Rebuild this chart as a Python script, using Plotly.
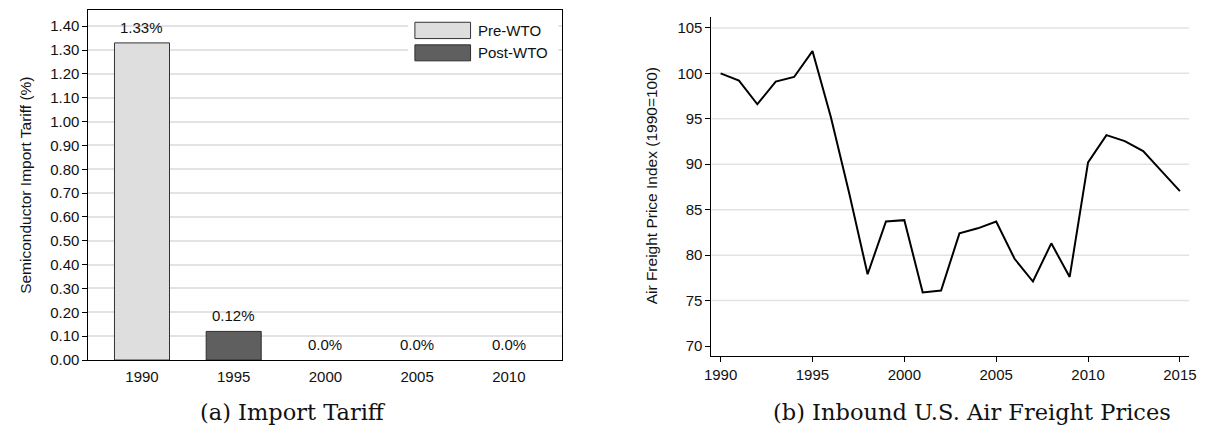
import plotly.graph_objects as go

W, H = 1205, 427

# ---- Data: panel (a) import tariff ----
tariff_years = ["1990", "1995", "2000", "2005", "2010"]
tariff_values = [1.33, 0.12, 0.0, 0.0, 0.0]
tariff_labels = ["1.33%", "0.12%", "0.0%", "0.0%", "0.0%"]
tariff_phase = ["Pre-WTO", "Post-WTO", "Post-WTO", "Post-WTO", "Post-WTO"]
tariff_ticks = [0.0, 0.1, 0.2, 0.3, 0.4, 0.5, 0.6, 0.7, 0.8, 0.9, 1.0, 1.1, 1.2, 1.3, 1.4]

# ---- Data: panel (b) air freight price index ----
freight_years = list(range(1990, 2016))
freight_index = [100.0, 99.2, 96.6, 99.1, 99.6, 102.45, 95.2, 86.8, 77.9, 83.7,
                 83.85, 75.9, 76.1, 82.4, 82.95, 83.7, 79.6, 77.1, 81.3, 77.6,
                 90.2, 93.2, 92.55, 91.45, 89.25, 87.05]
freight_xticks = [1990, 1995, 2000, 2005, 2010, 2015]
freight_yticks = [70, 75, 80, 85, 90, 95, 100, 105]
freight_grid = [75, 80, 85, 90, 95, 100, 105]

phase_colors = {"Pre-WTO": "#dedede", "Post-WTO": "#5f5f5f"}
phase_lines = {"Pre-WTO": "#333333", "Post-WTO": "#2e2e2e"}


def px(x):
    return x / W


def py(y):
    return (H - y) / H


SANS = "Liberation Sans, Arial"
TICK_FONT = dict(family=SANS, size=15, color="#111111")
GRID = "#e3e3e3"

fig = go.Figure()

for phase in ["Pre-WTO", "Post-WTO"]:
    xs = [x for x, p in zip(tariff_years, tariff_phase) if p == phase]
    ys = [v for v, p in zip(tariff_values, tariff_phase) if p == phase]
    lw = [1 if v > 0 else 0 for v in ys]
    fig.add_trace(go.Bar(
        x=xs, y=ys, name=phase, width=0.6,
        marker=dict(color=phase_colors[phase],
                    line=dict(color=phase_lines[phase], width=lw)),
        xaxis="x", yaxis="y", showlegend=False,
    ))

fig.add_trace(go.Scatter(
    x=freight_years, y=freight_index, mode="lines",
    line=dict(color="black", width=2), xaxis="x2", yaxis="y2",
    showlegend=False, name="Air Freight Price Index",
))

annotations = []
for i, (v, t) in enumerate(zip(tariff_values, tariff_labels)):
    annotations.append(dict(x=i, y=v, xref="x", yref="y", text=t, showarrow=False,
                            yanchor="bottom", yshift=5,
                            font=dict(family=SANS, size=15, color="#111111")))

# axis titles
annotations.append(dict(x=px(18), y=py(188.6), xref="paper", yref="paper",
                        text="Semiconductor Import Tariff (%)", textangle=-90, showarrow=False,
                        xanchor="center", yanchor="middle",
                        font=dict(family=SANS, size=15.5, color="#111111")))
annotations.append(dict(x=px(651.7), y=py(189.8), xref="paper", yref="paper",
                        text="Air Freight Price Index (1990=100)", textangle=-90, showarrow=False,
                        xanchor="center", yanchor="middle",
                        font=dict(family=SANS, size=15.5, color="#111111")))
# captions
annotations.append(dict(x=px(289), y=py(420), xref="paper", yref="paper",
                        text="(a) Import Tariff", showarrow=False,
                        xanchor="center", yanchor="middle",
                        font=dict(family="DejaVu Serif", size=22.5, color="#111111")))
annotations.append(dict(x=px(976), y=py(420), xref="paper", yref="paper",
                        text="(b) Inbound U.S. Air Freight Prices", showarrow=False,
                        xanchor="center", yanchor="middle",
                        font=dict(family="DejaVu Serif", size=22.5, color="#111111")))

# manual legend for panel (a)
shapes = []
shapes.append(dict(type="rect", xref="paper", yref="paper",
                   x0=px(406), x1=px(558), y0=py(68), y1=py(15),
                   fillcolor="white", line=dict(width=0), layer="above"))
legend_rows = [("Pre-WTO", 22.7, 39.3), ("Post-WTO", 45.7, 62.0)]
for name, top, bot in legend_rows:
    shapes.append(dict(type="rect", xref="paper", yref="paper",
                       x0=px(412.7), x1=px(469), y0=py(bot), y1=py(top),
                       fillcolor=phase_colors[name],
                       line=dict(color=phase_lines[name], width=1), layer="above"))
    annotations.append(dict(x=px(475), y=py((top + bot) / 2), xref="paper", yref="paper",
                            text=name, showarrow=False, xanchor="left", yanchor="middle",
                            font=dict(family=SANS, size=15, color="#111111")))

# gridlines for panel (b) (no line at 70)
for g in freight_grid:
    shapes.append(dict(type="line", xref="x2 domain", yref="y2",
                       x0=0, x1=1, y0=g, y1=g,
                       line=dict(color=GRID, width=1.5), layer="below"))

fig.update_layout(
    width=W, height=H,
    margin=dict(l=0, r=0, t=0, b=0),
    paper_bgcolor="white", plot_bgcolor="white",
    barmode="overlay",
    showlegend=False,
    annotations=annotations,
    shapes=shapes,
    xaxis=dict(domain=[px(82.3), px(562)], type="category",
               categoryorder="array", categoryarray=tariff_years,
               range=[-0.585, 4.585],
               showline=True, linecolor="black", linewidth=1, mirror=True,
               ticks="outside", ticklen=3, tickcolor="rgba(0,0,0,0)",
               showgrid=False, tickfont=TICK_FONT, zeroline=False, fixedrange=True),
    yaxis=dict(domain=[py(366.9), py(10.3)], range=[0, 1.4675],
               tickvals=tariff_ticks, tickformat=".2f",
               showline=True, linecolor="black", linewidth=1, mirror=True,
               ticks="outside", ticklen=5, tickcolor="black",
               showgrid=True, gridcolor=GRID, gridwidth=1.5,
               zeroline=False, tickfont=TICK_FONT, anchor="x"),
    xaxis2=dict(domain=[px(712.7), px(1196)], range=[1989.5, 2015.5],
                tickvals=freight_xticks,
                showline=True, linecolor="black", linewidth=1, mirror=False,
                ticks="outside", ticklen=5, tickcolor="black",
                showgrid=False, zeroline=False, tickfont=TICK_FONT, anchor="y2"),
    yaxis2=dict(domain=[py(362.3), py(17.3)], range=[68.96, 106.2],
                tickvals=freight_yticks,
                showline=True, linecolor="black", linewidth=1, mirror=False,
                ticks="outside", ticklen=5, tickcolor="black",
                showgrid=False, zeroline=False, tickfont=TICK_FONT, anchor="x2"),
)

fig.write_html("out.html")
